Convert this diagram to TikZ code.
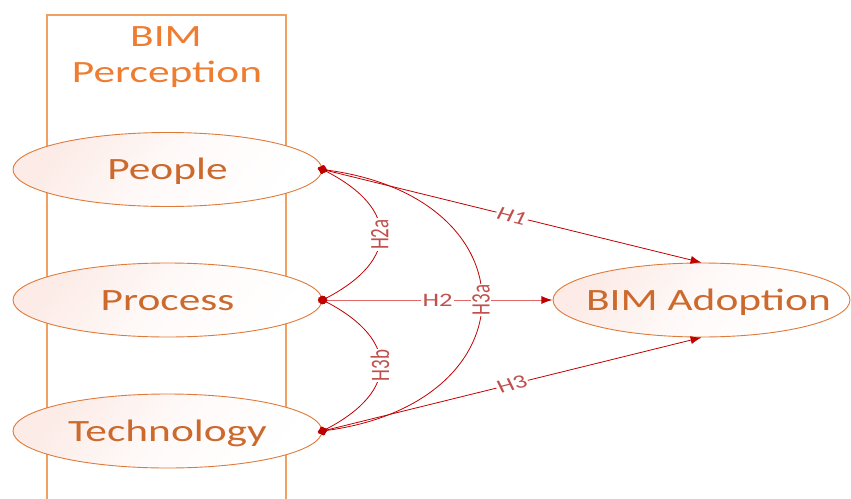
\documentclass[tikz,border=0pt]{standalone}
\usepackage{fontspec}
\setmainfont{Carlito}
\usetikzlibrary{shapes.geometric,arrows.meta}
\definecolor{ttl}{HTML}{EE7D31}
\definecolor{boxc}{HTML}{F0A060}
\definecolor{ellb}{HTML}{DE7A3A}
\definecolor{ellt}{HTML}{CC6A2E}
\definecolor{ellf}{HTML}{FCEBE6}
\definecolor{arr}{HTML}{C00000}
\definecolor{arrl}{HTML}{E06868}
\definecolor{lab}{HTML}{C0504D}
\newcommand{\zw}[1]{\makebox[0pt][c]{#1}}
\tikzset{
  ell/.style={ellipse, draw=ellb, line width=0.9pt,
    top color=ellf, bottom color=white, middle color=ellf!25!white, shading angle=50,
    minimum width=220.7pt, minimum height=74pt, inner sep=0pt,
    text height=20pt, text depth=0pt, text=ellt, font=\fontsize{31}{36}\selectfont},
  ttlstyle/.style={text=ttl, inner sep=0pt, font=\fontsize{31}{36}\selectfont},
  lbl/.style={fill=white, inner sep=1pt, text=lab, font=\fontsize{19}{21}\selectfont},
  conn/.style={draw=arr, line width=0.8pt, shorten <=-5pt,
    {Diamond[length=10pt,width=9pt,color=arr]}-{Latex[length=11pt,width=8pt,color=arr]}},
  curv/.style={draw=arr, line width=0.8pt, shorten <=-5pt, shorten >=-5pt,
    {Diamond[length=10pt,width=9pt]}-{Diamond[length=10pt,width=9pt]}}
}
\begin{document}
\begin{tikzpicture}
\useasboundingbox (0,0) rectangle (851pt,-498pt);
\clip (0,0) rectangle (851pt,-498pt);
\begin{scope}[x=0.714286pt, y=-1pt, xscale=1.4, transform shape]
  % frame
  \draw[boxc, line width=1.1pt] (47,520) -- (47,15) -- (286,15) -- (286,520);
  \node[ttlstyle, anchor=base] (t1) at (166,46) {BIM};
  \node[ttlstyle, anchor=base] (t2) at (167,82) {Perception};
  % constructs
  \node[ell] (people) at (167.5,169.5) {\zw{People}};
  \node[ell] (process) at (167.5,300) {\zw{Process}};
  \node[ell] (tech) at (167.5,431) {\zw{Technology}};
  \node[ell, minimum width=212.1pt] (adopt) at (701.5,300) {\zw{\hspace*{10pt}BIM Adoption}};
  % paths
  \draw[conn, draw=arrl, line width=1pt] (process.east) -- node[lbl] {H2} (adopt.west);
  \draw[conn] (people.east) -- node[lbl, rotate=-19.1] {H1} (adopt.north);
  \draw[conn] (tech.east) -- node[lbl, rotate=19.1] {H3} (adopt.south);
  \draw[curv] (people.east) .. controls (399,209) and (399,260) .. (process.east)
    node[lbl, pos=0.5, rotate=90] {H2a};
  \draw[curv] (process.east) .. controls (399,340) and (399,391) .. (tech.east)
    node[lbl, pos=0.5, rotate=90] {H3b};
  \draw[curv] (people.east) .. controls (534,198) and (534,402) .. (tech.east)
    node[lbl, pos=0.5, rotate=90] {H3a};
\end{scope}
\end{tikzpicture}
\end{document}
